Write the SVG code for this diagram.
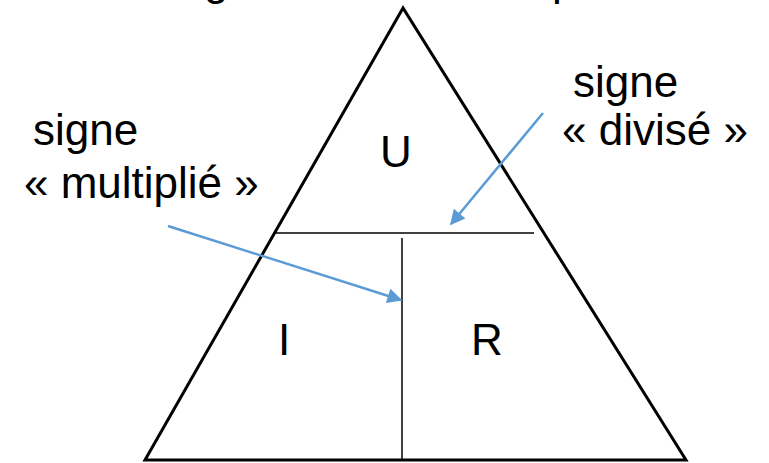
<svg xmlns="http://www.w3.org/2000/svg" width="769" height="463" viewBox="0 0 769 463">
<style>
text{font-family:"Liberation Sans",Arial,sans-serif;font-size:44px;fill:#000}
.edge{fill:none;stroke:#000;stroke-width:3;stroke-linejoin:miter}
.div{stroke:#000;stroke-width:1.5;fill:none}
.arr{stroke:#5B9BD5;stroke-width:2.5;fill:none;marker-end:url(#ah)}
</style>
<defs>
<marker id="ah" viewBox="0 0 10 10" refX="9" refY="5" markerWidth="7.5" markerHeight="6" markerUnits="strokeWidth" orient="auto">
<path d="M0,0 L10,5 L0,10 z" fill="#5B9BD5"/>
</marker>
</defs>
<g id="title">
<text x="204" y="-5" font-size="50">g</text>
<text x="552" y="-5" font-size="50">p</text>
</g>
<g id="triangle">
<path class="edge" d="M403,8 L145,460 L686,460 Z"/>
<line class="div" x1="273" y1="233" x2="534" y2="233"/>
<line class="div" x1="402" y1="238" x2="402" y2="460"/>
</g>
<g id="node-U"><text x="380" y="167">U</text></g>
<g id="node-I"><text x="278" y="355">I</text></g>
<g id="node-R"><text x="471" y="355">R</text></g>
<g id="label-mult">
<text x="33" y="145">signe</text>
<text x="24" y="198">« multiplié »</text>
</g>
<g id="label-div">
<text x="573" y="97">signe</text>
<text x="562" y="145">« divisé »</text>
</g>
<g id="connectors">
<line class="arr" x1="168" y1="226" x2="401" y2="300"/>
<line class="arr" x1="543" y1="113" x2="451" y2="224"/>
</g>
</svg>
